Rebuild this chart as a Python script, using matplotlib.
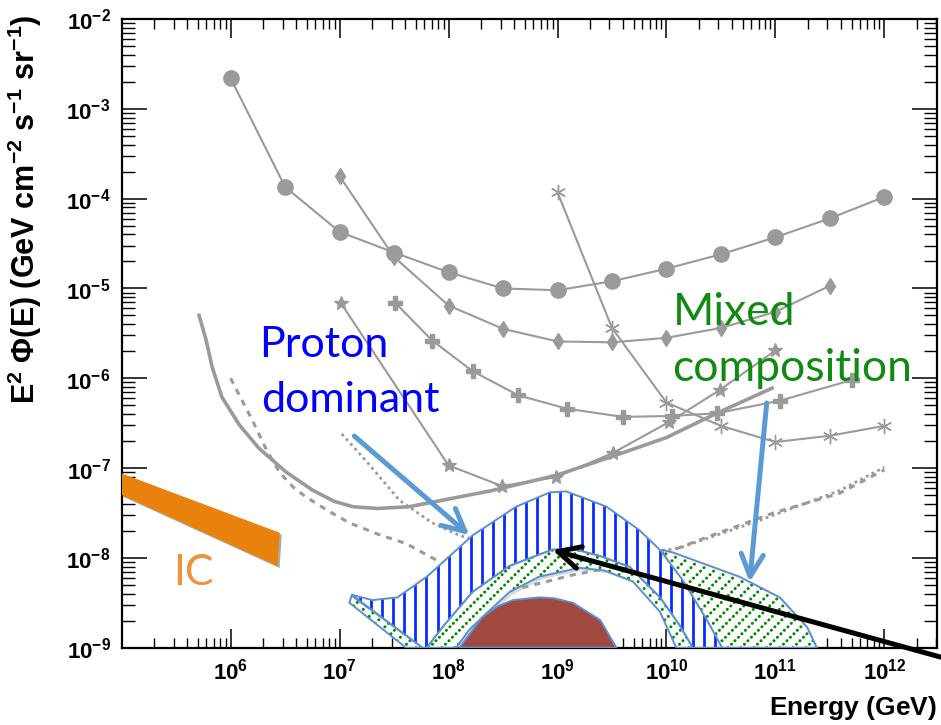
import numpy as np
import matplotlib
matplotlib.use('Agg')
import matplotlib.pyplot as plt
from matplotlib.patches import Polygon
from matplotlib.collections import LineCollection
from matplotlib.ticker import FixedLocator, LogLocator, NullFormatter
import matplotlib.patheffects as pe

plt.rcParams['mathtext.fontset'] = 'custom'
plt.rcParams['mathtext.rm'] = 'Liberation Sans'
plt.rcParams['mathtext.bf'] = 'Liberation Sans:bold'
plt.rcParams['mathtext.it'] = 'Liberation Sans:italic'

# ---- data (log10 E [GeV], log10 E^2 Phi) ----
circ_E = [6.0, 6.5, 7.0, 7.5, 8.0, 8.5, 9.0, 9.5, 10.0, 10.5, 11.0, 11.5, 12.0]
circ_F = [-2.66, -3.87, -4.37, -4.60, -4.82, -5.00, -5.02, -4.92, -4.78, -4.62, -4.43, -4.22, -3.98]

diam_E = [7.0, 7.5, 8.0, 8.5, 9.0, 9.5, 10.0, 10.5, 11.0, 11.5]
diam_F = [-3.75, -4.65, -5.19, -5.45, -5.59, -5.60, -5.55, -5.44, -5.26, -4.97]

plus_E = [7.51, 7.85, 8.22, 8.64, 9.09, 9.60, 10.05, 10.46, 11.04, 11.70]
plus_F = [-5.16, -5.58, -5.92, -6.19, -6.34, -6.43, -6.42, -6.39, -6.25, -6.02]

star_E = [7.01, 8.0, 8.49, 8.99, 9.51, 10.02, 10.49, 11.0]
star_F = [-5.16, -6.97, -7.20, -7.10, -6.83, -6.49, -6.13, -5.69]

ast_E = [9.0, 9.5, 10.0, 10.5, 11.0, 11.5, 12.0]
ast_F = [-3.93, -5.44, -6.27, -6.53, -6.71, -6.64, -6.53]

solid_E = [5.71, 5.775, 5.83, 5.92, 6.08, 6.26, 6.51, 6.75, 6.95, 7.12, 7.35, 7.64, 8.40, 8.99, 9.48, 10.00, 10.46, 10.97]
solid_F = [-5.30, -5.575, -5.875, -6.21, -6.52, -6.78, -7.045, -7.245, -7.37, -7.43, -7.45, -7.43, -7.25, -7.08, -6.88, -6.66, -6.39, -6.11]

dash_E = [6.00, 6.08, 6.20, 6.33, 6.45, 6.58, 6.69, 6.90, 7.09, 7.36, 7.61, 7.85, 8.19, 8.65, 8.88, 9.14, 9.48, 10.00, 10.37, 10.98, 11.59, 12.00]
dash_F = [-6.00, -6.19, -6.47, -6.80, -7.05, -7.22, -7.32, -7.48, -7.61, -7.74, -7.84, -8.00, -8.19, -8.34, -8.27, -8.19, -8.11, -7.94, -7.77, -7.50, -7.28, -7.02]

dot_E = [7.02, 7.25, 7.55, 7.85, 8.10, 8.65, 9.39, 10.12, 10.86, 11.59, 12.00]
dot_F = [-6.62, -6.93, -7.36, -7.61, -7.75, -7.95, -8.02, -7.89, -7.58, -7.25, -6.99]

ic_E = [5.0, 6.45, 6.43, 5.0]
ic_F = [-7.06, -7.72, -8.09, -7.30]

proton_top_E = [7.11, 7.30, 7.53, 7.80, 8.22, 8.62, 8.93, 9.08, 9.45, 9.75, 9.94, 10.15, 10.37, 10.51]
proton_top_F = [-8.41, -8.47, -8.44, -8.21, -7.75, -7.43, -7.27, -7.26, -7.43, -7.69, -7.91, -8.25, -8.69, -9.0]

ring_out_E = [7.80, 7.96, 8.22, 8.56, 8.95, 9.14, 9.39, 9.66, 9.94, 10.12, 10.24]
ring_out_F = [-9.0, -8.75, -8.38, -8.09, -7.91, -7.90, -7.98, -8.10, -8.44, -8.75, -9.0]
ring_in_E = [10.09, 9.94, 9.69, 9.43, 9.20, 8.83, 8.56, 8.38, 8.19, 8.07]
ring_in_F = [-9.0, -8.60, -8.26, -8.14, -8.11, -8.21, -8.38, -8.58, -8.80, -9.0]

wedge_E = [7.11, 7.76, 7.61, 7.09]
wedge_F = [-8.42, -9.0, -9.0, -8.50]

mixed_E = [9.955, 10.06, 10.67, 11.04, 11.29, 11.38, 10.49, 10.21]
mixed_F = [-7.91, -7.94, -8.21, -8.44, -8.77, -9.0, -9.0, -8.47]

red_E = [8.10, 8.31, 8.45, 8.59, 8.83, 8.97, 9.14, 9.39, 9.54]
red_F = [-9.0, -8.66, -8.54, -8.47, -8.44, -8.45, -8.50, -8.69, -9.0]

# arrows: (tail, head)
proton_arrow = [(7.135, -6.644), (8.19, -7.746)]
mixed_arrow = [(10.92, -6.276), (10.763, -8.269)]
black_arrow = [(12.518, -9.105), (8.954, -7.913)]

xtick_exp = [6, 7, 8, 9, 10, 11, 12]
ytick_exp = [-9, -8, -7, -6, -5, -4, -3, -2]

gray = '#9a9a9a'
edge_blue = '#5b8fd0'

fig = plt.figure(figsize=(9.41, 7.25), dpi=100)
ax = fig.add_axes([121.7/941, 1-647.7/725, (937-121.7)/941, (647.7-19)/725])
ax.set_xscale('log')
ax.set_yscale('log')
ax.set_xlim(1e5, 10**12.483)
ax.set_ylim(1e-9, 1e-2)

def p(E, F):
    return 10**np.asarray(E, float), 10**np.asarray(F, float)

# gray limit curves
ax.plot(*p(circ_E, circ_F), color=gray, lw=1.5, marker='o', ms=11, zorder=2)
ax.plot(*p(diam_E, diam_F), color=gray, lw=1.5, marker='d', ms=8.5, zorder=2)
ax.plot(*p(plus_E, plus_F), color=gray, lw=1.5, marker='P', ms=10, zorder=2)
ax.plot(*p(star_E, star_F), color=gray, lw=1.5, marker='*', ms=10, zorder=2)
ax.plot(*p(ast_E, ast_F), color=gray, lw=1.5, marker=(6, 2, 0), ms=11, mew=1.0, zorder=2)
ax.plot(*p(solid_E, solid_F), color=gray, lw=2.6, zorder=2)
ax.plot(*p(dash_E, dash_F), color=gray, lw=2.2, dashes=(2, 2), zorder=2)
ax.plot(*p(dot_E, dot_F), color=gray, lw=2.0, dashes=(1, 1.3), zorder=2)

# IC band
ax.add_patch(Polygon(np.column_stack(p(ic_E, ic_F)), closed=True, facecolor='#e8820c',
                     edgecolor='none', zorder=3,
                     path_effects=[pe.SimplePatchShadow(offset=(1.5, -1.5), shadow_rgbFace='0.45', alpha=0.6), pe.Normal()]))

W = 937 - 121.7
H = 647.7 - 19

def region(E, F, kind, z, face='white'):
    xy = np.column_stack(p(E, F))
    patch = Polygon(xy, closed=True, facecolor=face, edgecolor='none', zorder=z,
                    path_effects=[pe.SimplePatchShadow(offset=(2, -2), shadow_rgbFace='0.6', alpha=0.35), pe.Normal()])
    ax.add_patch(patch)
    if kind == 'vertical':
        segs = [[(c, 0), (c, 1)] for c in np.arange(5/W, 1, 11.1/W)]
        lc = LineCollection(segs, colors='#0a2cff', linewidths=2.0, transform=ax.transAxes, zorder=z+0.1)
        lc.set_clip_path(patch)
        ax.add_collection(lc)
    elif kind == 'diag':
        segs = [[(c, 0), (c + H/W, 1)] for c in np.arange(-H/W, 1, 13/W)]
        lc = LineCollection(segs, colors='#008a00', linewidths=2.2, linestyles=[(0, (0.01, 1.6))],
                            transform=ax.transAxes, zorder=z+0.1)
        lc.set_capstyle('round')
        lc.set_clip_path(patch)
        ax.add_collection(lc)
    ax.add_patch(Polygon(xy, closed=True, fill=False, edgecolor=edge_blue, lw=1.4, zorder=z+0.2))

region(mixed_E, mixed_F, 'diag', 4)
proton_E = proton_top_E + [10.24] + ring_out_E[::-1][1:] + [7.76]
proton_F = proton_top_F + [-9.0] + ring_out_F[::-1][1:] + [-9.0]
region(proton_E, proton_F, 'vertical', 5)
region(ring_out_E + ring_in_E, ring_out_F + ring_in_F, 'diag', 6)
region(wedge_E, wedge_F, 'diag', 6)
region(red_E, red_F, None, 7, face='#a2493f')

# arrows
def arrow(pts, color, lw):
    (x0, y0), (x1, y1) = pts
    ax.annotate('', xy=(10**x1, 10**y1), xytext=(10**x0, 10**y0), annotation_clip=False,
                arrowprops=dict(arrowstyle='->,head_length=0.8,head_width=0.4', color=color, lw=lw,
                                mutation_scale=20, shrinkA=0, shrinkB=0), zorder=9)

arrow(proton_arrow, '#5b9bd5', 3.6)
arrow(mixed_arrow, '#5b9bd5', 3.6)
arrow(black_arrow, 'black', 3.6)

# annotation texts
tf = 'Lato'
ax.text(10**6.262, 10**-5.764, 'Proton', color='#0000ff', fontsize=31, family=tf, zorder=10)
ax.text(10**6.28, 10**-6.376, 'dominant', color='#0000ff', fontsize=31, family=tf, zorder=10)
ax.text(10**10.056, 10**-5.408, 'Mixed', color='#108a10', fontsize=32, family=tf, zorder=10)
ax.text(10**10.056, 10**-6.031, 'composition', color='#108a10', fontsize=32, family=tf, zorder=10)
ax.text(10**5.472, 10**-8.303, 'IC', color='#f0923a', fontsize=31, family=tf, zorder=10)

# axes styling (ROOT-like)
ax.xaxis.set_major_locator(FixedLocator([10.0**e for e in xtick_exp]))
ax.set_xticklabels([r'$\mathbf{10^{%d}}$' % e for e in xtick_exp], fontsize=16)
ax.yaxis.set_major_locator(FixedLocator([10.0**e for e in ytick_exp]))
ax.set_yticklabels([r'$\mathbf{10^{%d}}$' % e for e in ytick_exp], fontsize=16)
for a in (ax.xaxis, ax.yaxis):
    a.set_minor_locator(LogLocator(base=10, subs=np.arange(2, 10), numticks=30))
    a.set_minor_formatter(NullFormatter())
ax.tick_params(axis='x', which='major', direction='in', length=13.7, width=1.1, top=True, pad=7)
ax.tick_params(axis='x', which='minor', direction='in', length=7.2, width=1.0, top=True)
ax.tick_params(axis='y', which='major', direction='in', length=18, width=1.1, right=True, pad=8)
ax.tick_params(axis='y', which='minor', direction='in', length=9.4, width=1.0, right=True)
for s in ax.spines.values():
    s.set_linewidth(1.6)

fig.text(937/941, 1-708/725, r'$\mathbf{Energy\ (GeV)}$', ha='right', va='center', fontsize=19)
fig.text(25/941, 1-14/725, r'$\mathbf{E^{2}\ \Phi(E)\ (GeV\ cm^{-2}\ s^{-1}\ sr^{-1})}$',
         rotation=90, ha='center', va='top', fontsize=22)

fig.savefig('out.png', dpi=100)
